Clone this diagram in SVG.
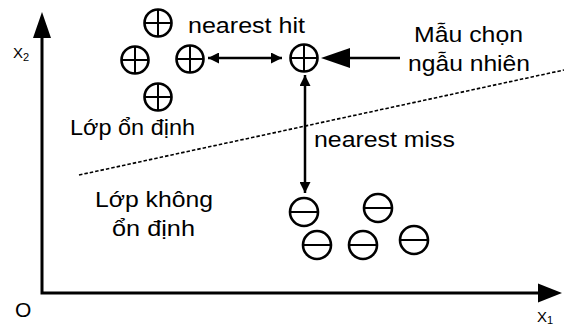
<svg xmlns="http://www.w3.org/2000/svg" width="564" height="327" viewBox="0 0 564 327">
<style>
text{font-family:"Liberation Sans",Arial,sans-serif;fill:#000}
.lbl{font-size:22px}
.ax{stroke:#000;stroke-width:3;fill:none}
.cir{fill:#fff;stroke:#000;stroke-width:2.6}
.bar{stroke:#000;stroke-width:2}
.con{stroke:#000;stroke-width:2.5;fill:none}
</style>
<defs>
<marker id="ah" viewBox="0 0 10 10" refX="10" refY="5" markerWidth="4.4" markerHeight="4.4" orient="auto-start-reverse" markerUnits="strokeWidth">
<path d="M0,0 L10,5 L0,10 z" fill="#000"/>
</marker>
<g id="plus"><circle class="cir" r="13.5"/><path class="bar" d="M-13.5,0H13.5M0,-13.5V13.5"/></g>
<g id="minus"><circle class="cir" r="14"/><path class="bar" d="M-14,0H14"/></g>
</defs>
<rect width="564" height="327" fill="#fff"/>
<g id="axes">
<path class="ax" d="M42,36V293H540"/>
<path d="M42,12 L51,38 L33,38 z" fill="#000"/>
<path d="M562,293 L538,283.5 L538,302.5 z" fill="#000"/>
<text x="15" y="317" font-size="21">O</text>
<text x="13" y="58" font-size="15">X<tspan font-size="11" dy="3">2</tspan></text>
<text x="537" y="322" font-size="15">X<tspan font-size="11" dy="2">1</tspan></text>
</g>
<g id="boundary">
<path d="M79,175 L564,70" stroke="#000" stroke-width="1.6" stroke-dasharray="3.5,2" fill="none"/>
</g>
<g id="stable-class">
<use href="#plus" x="158" y="23"/>
<use href="#plus" x="135" y="60"/>
<use href="#plus" x="190" y="59"/>
<use href="#plus" x="158" y="97"/>
<text class="lbl" x="70" y="135" textLength="125" lengthAdjust="spacingAndGlyphs">Lớp ổn định</text>
</g>
<g id="sample">
<use href="#plus" x="304" y="58"/>
</g>
<g id="unstable-class">
<use href="#minus" x="304" y="212"/>
<use href="#minus" x="378" y="208"/>
<use href="#minus" x="317" y="245"/>
<use href="#minus" x="363" y="245"/>
<use href="#minus" x="414" y="240"/>
<text class="lbl" x="95" y="207" textLength="118" lengthAdjust="spacingAndGlyphs">Lớp không</text>
<text class="lbl" x="112" y="236" textLength="83" lengthAdjust="spacingAndGlyphs">ổn định</text>
</g>
<g id="connectors">
<path class="con" d="M208,58H282" marker-start="url(#ah)" marker-end="url(#ah)"/>
<path class="con" d="M305,75V193" marker-start="url(#ah)" marker-end="url(#ah)"/>
<path class="con" stroke-width="3" d="M400,58H348"/>
<path d="M321,58 L350,48 L350,68 z" fill="#000"/>
</g>
<g id="labels">
<text class="lbl" x="188" y="33" textLength="117" lengthAdjust="spacingAndGlyphs">nearest hit</text>
<text class="lbl" x="414" y="42" textLength="109" lengthAdjust="spacingAndGlyphs">Mẫu chọn</text>
<text class="lbl" x="408" y="71" textLength="122" lengthAdjust="spacingAndGlyphs">ngẫu nhiên</text>
<text class="lbl" x="314" y="147" textLength="141" lengthAdjust="spacingAndGlyphs">nearest miss</text>
</g>
</svg>
